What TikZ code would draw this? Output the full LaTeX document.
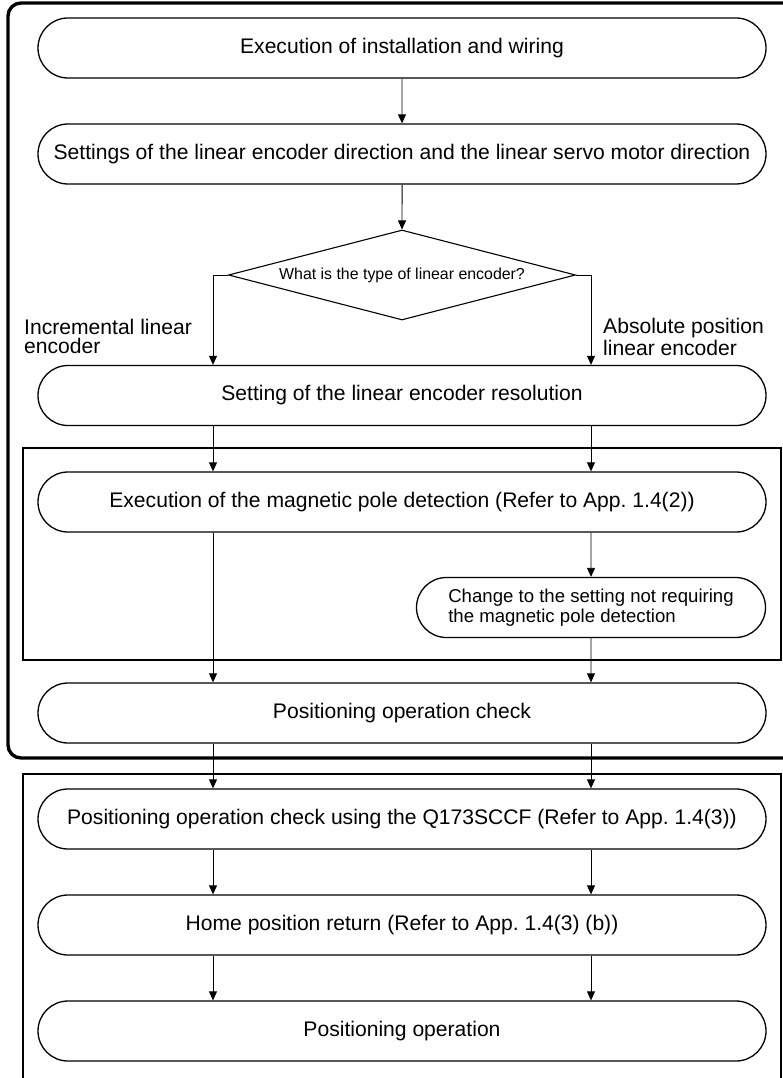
\documentclass[tikz,border=0pt]{standalone}
\usepackage{fontspec}
\setmainfont{Liberation Sans}
\usetikzlibrary{shapes.misc,shapes.geometric,arrows.meta}

\begin{document}
\begin{tikzpicture}[x=1pt, y=-1pt,
    stepbox/.style={draw, line width=1.3pt, rounded rectangle, minimum width=728pt,
        minimum height=60pt, inner sep=0pt, font=\fontsize{21.1}{24}\selectfont},
    arr/.style={-{Triangle[length=9pt,width=8pt]}, line width=0.9pt},
    groupbox/.style={line width=1.6pt}]
    % Page
    \fill[white] (0,0) rectangle (782,1078);
    \useasboundingbox (0,0) rectangle (782,1078);

    % Frames
    \draw[line width=3.4pt, rounded corners=13pt] (810,3) -- (8,3) -- (8,758) -- (810,758);
    \draw[groupbox] (23,448) rectangle (781,660);
    \draw[groupbox] (23,774) rectangle (781,1100);

    % Branch columns
    \coordinate (L) at (213,0);
    \coordinate (R) at (591,0);

    % Steps
    \node[stepbox] (wire) at (402,48) {Execution of installation and wiring};
    \node[stepbox] (dir) at (402,154) {Settings of the linear encoder direction and the linear servo motor direction};
    \node[draw, diamond, line width=1.1pt, aspect=3.86, minimum width=347pt, minimum height=90pt,
        inner sep=0pt, font=\fontsize{15.9}{18}\selectfont] (type) at (402,275) {What is the type of linear encoder?};
    \node[stepbox] (res) at (402,395.5) {Setting of the linear encoder resolution};
    \node[stepbox] (pole) at (402,502) {Execution of the magnetic pole detection (Refer to App.\ 1.4(2))};
    \node[stepbox, minimum width=349pt, align=left, font=\fontsize{18.6}{20}\selectfont] (nopole) at (591,607.5)
        {Change to the setting not requiring\\the magnetic pole detection};
    \node[stepbox] (check) at (402,713) {Positioning operation check};
    \node[stepbox] (q173) at (402,819) {Positioning operation check using the Q173SCCF (Refer to App.\ 1.4(3))};
    \node[stepbox] (home) at (402,925) {Home position return (Refer to App.\ 1.4(3) (b))};
    \node[stepbox] (run) at (402,1031) {Positioning operation};

    % Branch labels
    \node[anchor=north west, align=left, inner sep=0pt, font=\fontsize{21.1}{18.8}\selectfont] (inc) at (24,319.5)
        {Incremental linear\\encoder};
    \node[anchor=north west, align=left, inner sep=0pt, font=\fontsize{21.1}{22.5}\selectfont] (abs) at (603,317.6)
        {Absolute position\\linear encoder};

    % Connectors
    \draw[arr] (wire) -- (dir);
    \draw[arr] (dir) -- (type);
    \draw[arr] (type.west) -| (res.north -| L);
    \draw[arr] (type.east) -| (res.north -| R);
    \foreach \a/\b in {res/pole, check/q173, q173/home, home/run}
        \foreach \c in {L,R}
            \draw[arr] (\a.south -| \c) -- (\b.north -| \c);
    \draw[arr] (pole.south -| L) -- (check.north -| L);
    \draw[arr] (pole.south -| R) -- (nopole);
    \draw[arr] (nopole) -- (check.north -| R);
\end{tikzpicture}
\end{document}
